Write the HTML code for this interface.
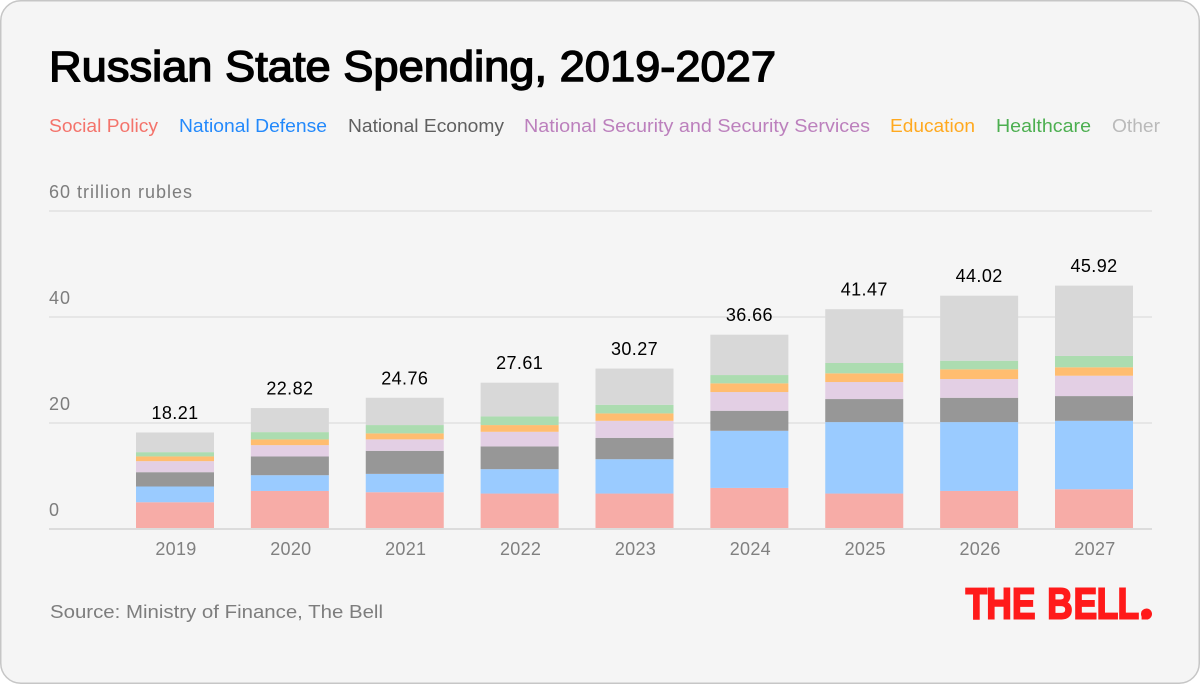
<!DOCTYPE html>
<html lang="en">
<head>
<meta charset="utf-8">
<title>Russian State Spending, 2019-2027</title>
<style>
  html, body { margin: 0; padding: 0; background: #fff; }
  body { width: 1200px; height: 684px; overflow: hidden; }
  svg { display: block; font-family: "Liberation Sans", sans-serif; }
  .grid { stroke: #e6e6e6; stroke-width: 2; }
  .baseline { stroke: #dcdcdc; stroke-width: 2; }
  .tick { fill: #7d7d7d; font-size: 18px; letter-spacing: 1px; }
  .value { fill: #000; font-size: 18px; text-anchor: middle; letter-spacing: 0.4px; }
  .year { fill: #808080; font-size: 18px; text-anchor: middle; letter-spacing: 0.3px; }
  .legend { font-size: 18px; }
  .s-social { fill: #f7aca7; }
  .s-defense { fill: #9acbff; }
  .s-economy { fill: #979797; }
  .s-security { fill: #e3cfe4; }
  .s-education { fill: #ffbd70; }
  .s-healthcare { fill: #acdcb0; }
  .s-other { fill: #d8d8d8; }
</style>
</head>
<body>
<svg id="chart" xmlns="http://www.w3.org/2000/svg" width="1200" height="684" viewBox="0 0 1200 684">
  <rect x="0.75" y="0.75" width="1198.5" height="682.5" rx="20" ry="20" fill="#f5f5f5" stroke="#c6c6c6" stroke-width="1.5"/>
  <text x="49" y="81" font-size="43" font-weight="400" fill="#000" stroke="#000" stroke-width="1.4" textLength="727" lengthAdjust="spacingAndGlyphs">Russian State Spending, 2019-2027</text>
  <g>
    <text class="legend" x="49" y="132" fill="#f4736b" textLength="109" lengthAdjust="spacingAndGlyphs">Social Policy</text>
    <text class="legend" x="179" y="132" fill="#2389fb" textLength="148" lengthAdjust="spacingAndGlyphs">National Defense</text>
    <text class="legend" x="348" y="132" fill="#5f5f5f" textLength="156" lengthAdjust="spacingAndGlyphs">National Economy</text>
    <text class="legend" x="524" y="132" fill="#bc80bd" textLength="346" lengthAdjust="spacingAndGlyphs">National Security and Security Services</text>
    <text class="legend" x="890" y="132" fill="#ffa91f" textLength="85" lengthAdjust="spacingAndGlyphs">Education</text>
    <text class="legend" x="996" y="132" fill="#4caf50" textLength="95" lengthAdjust="spacingAndGlyphs">Healthcare</text>
    <text class="legend" x="1112" y="132" fill="#bababa" textLength="48" lengthAdjust="spacingAndGlyphs">Other</text>
  </g>
  <g id="grid-layer"></g>
  <g id="bar-layer"></g>
  <line class="baseline" x1="49" x2="1152" y1="529" y2="529"/>
  <g id="label-layer"></g>
  <text x="50" y="618" font-size="18" fill="#7d7d7d" textLength="333" lengthAdjust="spacingAndGlyphs">Source: Ministry of Finance, The Bell</text>
  <g>
    <text transform="scale(0.8 1)" x="1207 1233 1265 1292 1309 1342 1371 1397 1425" y="618.3" font-size="44" font-weight="700" fill="#ff1a1a" stroke="#ff1a1a" stroke-width="2">THE BELL.</text>
    <circle cx="1146.5" cy="614" r="5.5" fill="#ff1a1a"/>
  </g>
</svg>
<script>
const categories = ["2019", "2020", "2021", "2022", "2023", "2024", "2025", "2026", "2027"];
const totals = [18.21, 22.82, 24.76, 27.61, 30.27, 36.66, 41.47, 44.02, 45.92];
const socialPolicy = [5.05, 7.18, 6.94, 6.69, 6.69, 7.75, 6.69, 7.18, 7.5];
const nationalDefense = [2.97, 2.97, 3.46, 4.6, 6.48, 10.78, 13.48, 12.99, 12.91];
const nationalEconomy = [2.7, 3.53, 4.35, 4.29, 4.03, 3.78, 4.35, 4.59, 4.67];
const nationalSecurity = [2.08, 2.14, 2.16, 2.76, 3.21, 3.53, 3.21, 3.53, 3.84];
const education = [0.89, 1.08, 1.13, 1.27, 1.4, 1.64, 1.64, 1.83, 1.59];
const healthcare = [0.81, 1.38, 1.57, 1.64, 1.63, 1.57, 1.95, 1.63, 2.14];
const other = [3.71, 4.54, 5.15, 6.36, 6.83, 7.61, 10.15, 12.27, 13.27];
const yTicks = [0, 20, 40, 60];
const yTickLabels = ["0", "20", "40", "60 trillion rubles"];

const NS = "http://www.w3.org/2000/svg";
function yScale(v) { return 529 - 5.3 * v; }
function xCenter(i) { return 175 + 114.875 * i; }
const BAR_WIDTH = 78;

const gridLayer = document.getElementById("grid-layer");
const barLayer = document.getElementById("bar-layer");
const labelLayer = document.getElementById("label-layer");

function addText(parent, cls, x, y, str) {
  const t = document.createElementNS(NS, "text");
  t.setAttribute("class", cls);
  t.setAttribute("x", x);
  t.setAttribute("y", y);
  t.textContent = str;
  parent.appendChild(t);
  return t;
}

yTicks.forEach(function (tick, i) {
  if (tick !== 0) {
    const line = document.createElementNS(NS, "line");
    line.setAttribute("class", "grid");
    line.setAttribute("x1", 49);
    line.setAttribute("x2", 1152);
    line.setAttribute("y1", yScale(tick));
    line.setAttribute("y2", yScale(tick));
    
    
    gridLayer.appendChild(line);
  }
  const label = addText(gridLayer, "tick", 49, yScale(tick) - 13, yTickLabels[i]);
  
  
});

const stackOrder = [
  [socialPolicy, "s-social"],
  [nationalDefense, "s-defense"],
  [nationalEconomy, "s-economy"],
  [nationalSecurity, "s-security"],
  [education, "s-education"],
  [healthcare, "s-healthcare"],
  [other, "s-other"]
];

categories.forEach(function (cat, i) {
  let running = 0;
  stackOrder.forEach(function (entry) {
    const v = entry[0][i];
    const rect = document.createElementNS(NS, "rect");
    rect.setAttribute("class", entry[1]);
    rect.setAttribute("x", xCenter(i) - BAR_WIDTH / 2);
    rect.setAttribute("y", yScale(running + v));
    rect.setAttribute("width", BAR_WIDTH);
    rect.setAttribute("height", yScale(running) - yScale(running + v));
    
    
    barLayer.appendChild(rect);
    running += v;
  });
  const total = addText(labelLayer, "value", xCenter(i), yScale(running) - 13.5, totals[i].toFixed(2));
  
  
  const year = addText(labelLayer, "year", xCenter(i) + 1, 555, cat);
  
  
});
</script>
</body>
</html>
